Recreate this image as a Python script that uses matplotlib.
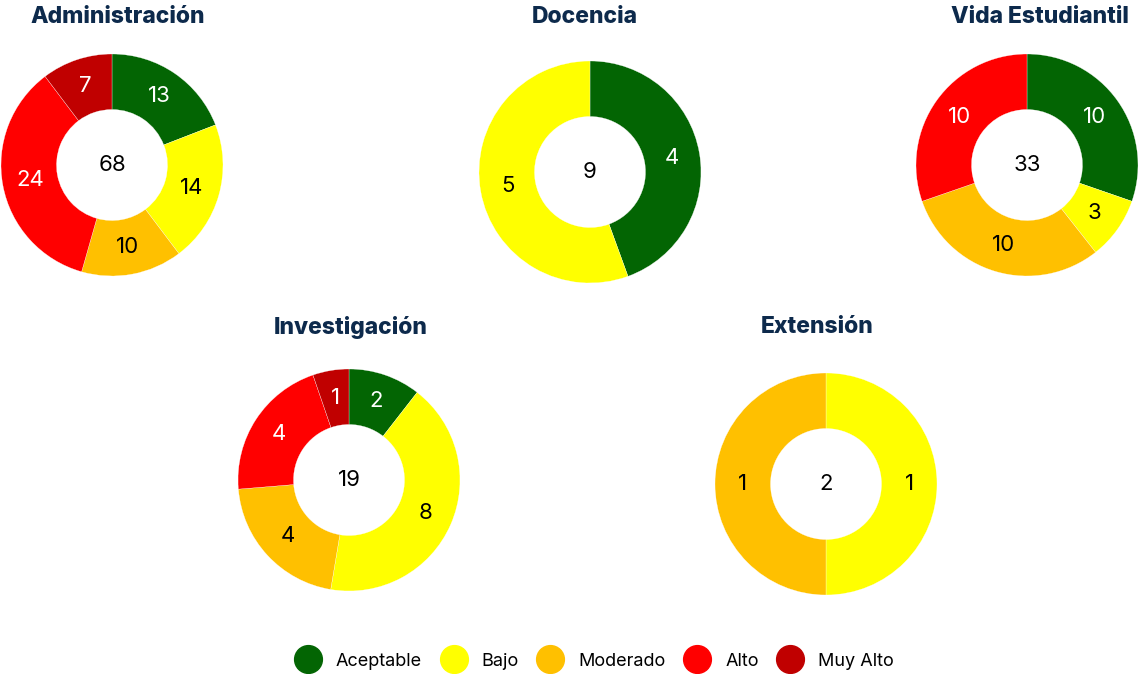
import matplotlib.pyplot as plt
from matplotlib.lines import Line2D

# risk levels and their colours
niveles = ["Aceptable", "Bajo", "Moderado", "Alto", "Muy Alto"]
colores = ["#036503", "#ffff00", "#ffc000", "#ff0000", "#c00000"]
color_texto = ["white", "black", "black", "white", "white"]

areas = ["Administración", "Docencia", "Vida Estudiantil", "Investigación", "Extensión"]
administracion = [13, 14, 10, 24, 7]
docencia = [4, 5, 0, 0, 0]
vida_estudiantil = [10, 3, 10, 10, 0]
investigacion = [2, 8, 4, 4, 1]
extension = [0, 1, 1, 0, 0]
valores = [administracion, docencia, vida_estudiantil, investigacion, extension]

W, H = 1143, 674
# pixel layout: donut centre, title centre
centros = [(112, 165), (590, 172), (1027, 165), (349, 480), (826, 484)]
titulos = [(118, 17), (585, 17), (1040, 17), (351, 327), (817, 327)]
R = 111

plt.rcParams['font.family'] = ['Inter', 'DejaVu Sans']
fig = plt.figure(figsize=(W / 100, H / 100), dpi=100)
fig.patch.set_facecolor('white')

for nombre, vals, (cx, cy), (tx, ty) in zip(areas, valores, centros, titulos):
    ax = fig.add_axes([(cx - R) / W, 1 - (cy + R) / H, 2 * R / W, 2 * R / H])
    idx = [i for i, v in enumerate(vals) if v > 0]
    datos = [vals[i] for i in idx]
    total = sum(vals)
    wedges, _, autotexts = ax.pie(
        datos, colors=[colores[i] for i in idx], startangle=90, counterclock=False,
        radius=1, autopct=lambda p, t=total: f"{round(p * t / 100)}", pctdistance=0.75,
        wedgeprops=dict(width=0.5, edgecolor='white', linewidth=0.2),
        textprops=dict(fontsize=16))
    for t, i in zip(autotexts, idx):
        t.set_color(color_texto[i])
    ax.text(0, 0, str(total), ha='center', va='center', fontsize=16, color='black')
    ax.set_xlim(-1, 1)
    ax.set_ylim(-1, 1)
    ax.set_aspect('equal')
    ax.axis('off')
    fig.text(tx / W, 1 - ty / H, nombre, ha='center', va='center',
             fontsize=16.5, fontweight='heavy', color='#0d2a4c')

handles = [Line2D([], [], marker='o', linestyle='', markersize=20,
                  markerfacecolor=c, markeredgecolor=c) for c in colores]
fig.legend(handles, niveles, loc='center', bbox_to_anchor=(592 / W, 1 - 661 / H),
           ncol=5, frameon=False, fontsize=13, handletextpad=0.55, columnspacing=0.75)

fig.savefig('out.png', dpi=100, facecolor='white')
